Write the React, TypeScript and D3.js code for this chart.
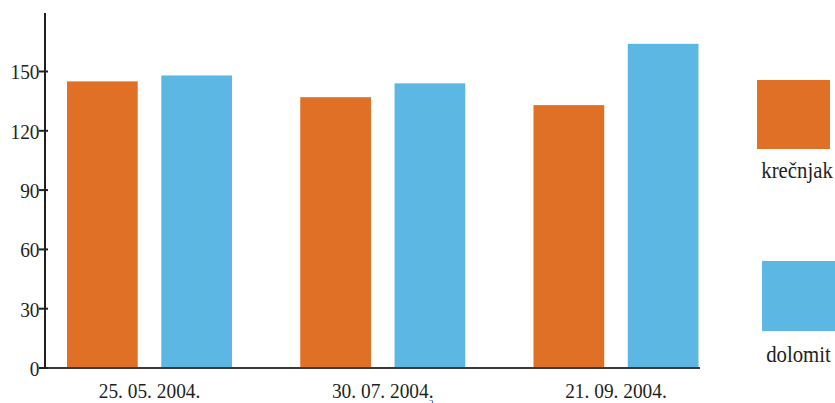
import React from "react";
import * as d3 from "d3";

const categories = ["25. 05. 2004.", "30. 07. 2004.", "21. 09. 2004."];
const seriesNames = ["krečnjak", "dolomit"];
const krecnjak = [145, 137, 133];
const dolomit = [148, 144, 164];
const yTicks = [0, 30, 60, 90, 120, 150];
const colors = ["#e07026", "#5cb8e2"];

const font = "'Liberation Serif', 'Times New Roman', serif";
const textColor = "#231f20";

function CText({ x, y, size, sx, anchor, children }: any) {
  return (
    <text
      transform={`translate(${x},${y}) scale(${sx},1)`}
      textAnchor={anchor}
      fontFamily={font}
      fontSize={size}
      fill={textColor}
    >
      {children}
    </text>
  );
}

export default function App() {
  const W = 835, H = 403;
  const axisX = 45;
  const y = d3.scaleLinear().domain([0, 150]).range([368, 71.5]);
  const x0 = d3.scaleBand<string>().domain(categories).range([32.9, 732.6]).padding(0);
  const groupW = 165;
  const x1 = d3.scaleBand<string>().domain(seriesNames).range([0, groupW]).paddingInner(0.25);
  const offset = (x0.bandwidth() - groupW) / 2;
  const values = [krecnjak, dolomit];
  return (
    <svg width={W} height={H} style={{ position: "absolute", left: 0, top: 0, background: "#fff" }}>
      {categories.map((c, i) =>
        seriesNames.map((s, j) => (
          <rect
            key={c + s}
            x={(x0(c) ?? 0) + offset + (x1(s) ?? 0)}
            y={y(values[j][i])}
            width={x1.bandwidth()}
            height={y(0) - y(values[j][i])}
            fill={colors[j]}
          />
        ))
      )}
      <line x1={axisX} x2={700} y1={y(0)} y2={y(0)} stroke="#3a3a3a" strokeWidth={2} />
      <line x1={axisX} x2={axisX} y1={13} y2={y(0)} stroke="#231f20" strokeWidth={2} />
      {yTicks.map((t) => (
        <g key={t}>
          <line x1={axisX - 6} x2={axisX + 3} y1={y(t)} y2={y(t)} stroke="#231f20" strokeWidth={2} />
          <CText x={axisX - 5.5} y={y(t) + 7.8} size={22} sx={0.88} anchor="end">
            {t}
          </CText>
        </g>
      ))}
      {categories.map((c) => (
        <CText key={c} x={(x0(c) ?? 0) + x0.bandwidth() / 2} y={398} size={22} sx={0.88} anchor="middle">
          {c}
        </CText>
      ))}
      <text x={429} y={406} fontFamily={font} fontSize={9} fill={textColor}>2</text>
      <rect x={757} y={80} width={73} height={69} fill={colors[0]} />
      <CText x={797} y={178} size={23.5} sx={0.885} anchor="middle">
        {seriesNames[0]}
      </CText>
      <rect x={762} y={261} width={73} height={70} fill={colors[1]} />
      <CText x={798.5} y={362} size={23.5} sx={0.885} anchor="middle">
        {seriesNames[1]}
      </CText>
    </svg>
  );
}
